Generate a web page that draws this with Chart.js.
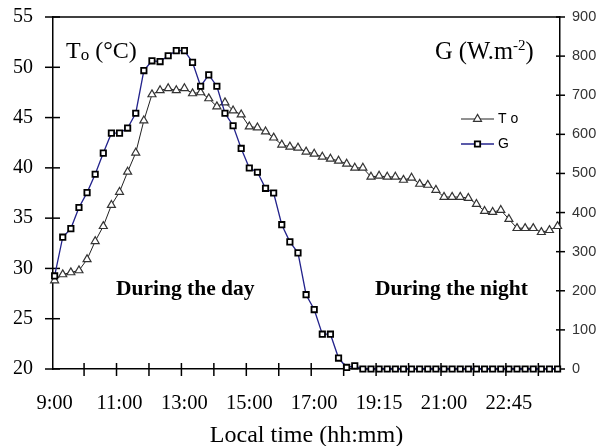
<!DOCTYPE html>
<html><head><meta charset="utf-8">
<script src="https://cdn.jsdelivr.net/npm/chart.js@4.4.1/dist/chart.umd.min.js"></script>
<style>html,body{margin:0;padding:0;background:#fff;}</style>
</head><body>
<canvas id="c" width="608" height="446"></canvas>
<script>
// x-axis tick labels, placed every 8 samples (15-min samples)
const tickLabels = ['9:00','11:00','13:00','15:00','17:00','19:15','21:00','22:45'];
// sample index (category position) of each measurement
const samples = Array.from({length: 63}, (_, i) => i);
// To (°C)
const tempo = [28.8,29.4,29.6,29.8,30.9,32.7,34.2,36.3,37.6,39.6,
  41.5,44.7,47.3,47.7,47.9,47.7,47.9,47.4,47.5,46.9,
  46.1,46.5,45.7,45.3,44.1,44.0,43.6,43.0,42.3,42.1,
  42.0,41.6,41.4,41.1,40.9,40.7,40.4,40.0,40.0,39.1,
  39.2,39.1,39.1,38.8,39.0,38.4,38.3,37.8,37.1,37.1,
  37.1,37.0,36.4,35.7,35.6,35.8,34.9,34.0,34.0,34.0,
  33.6,33.8,34.2];
// G (W.m-2)
const irradiance = [238,337,359,413,451,498,552,603,603,616,
  654,763,788,786,801,814,814,784,723,752,
  723,654,622,564,514,503,462,450,369,325,
  297,190,152,89,89,28,4,8,0,0,
  0,0,0,0,0,0,0,0,0,0,
  0,0,0,0,0,0,0,0,0,0,
  0,0,0];

const SERIF = "'Liberation Serif', 'Times New Roman', serif";
const SANS = "'Liberation Sans', Arial, sans-serif";

const decor = {
  id: 'decor',
  beforeDatasetsDraw(chart) {
    const {ctx, chartArea: a, scales: {x, yT, yG}} = chart;
    ctx.save();
    ctx.strokeStyle = '#000';
    ctx.lineWidth = 1.5;
    const seg = (x1, y1, x2, y2) => { ctx.beginPath(); ctx.moveTo(x1, y1); ctx.lineTo(x2, y2); ctx.stroke(); };
    seg(a.left, a.top, a.right, a.top);
    for (let v = 20; v <= 55; v += 5) { const y = yT.getPixelForValue(v); seg(a.left - 8, y, a.left + 7, y); }
    for (let v = 0; v <= 900; v += 100) { const y = yG.getPixelForValue(v); seg(a.right - 4, y, a.right + 5, y); }
    for (let i = 4; i <= 60; i += 4) { const px = x.getPixelForValue(i) - 3; seg(px, a.bottom - 6, px, a.bottom + 7); }
    ctx.restore();
  },
  afterDatasetsDraw(chart) {
    const {ctx} = chart;
    ctx.save();
    ctx.fillStyle = '#000';
    ctx.textBaseline = 'alphabetic';
    ctx.textAlign = 'left';
    // To (°C)
    let xx = 66;
    ctx.font = '24px ' + SERIF; ctx.fillText('T', xx, 58); xx += ctx.measureText('T').width;
    ctx.font = '17px ' + SERIF; ctx.fillText('o', xx, 60); xx += ctx.measureText('o').width;
    ctx.font = '24px ' + SERIF; ctx.fillText(' (°C)', xx, 58);
    // G (W.m-2)
    xx = 435;
    ctx.font = '24.5px ' + SERIF; ctx.fillText('G (W.m', xx, 59); xx += ctx.measureText('G (W.m').width;
    ctx.font = '15px ' + SERIF; ctx.fillText('-2', xx, 50); xx += ctx.measureText('-2').width;
    ctx.font = '24.5px ' + SERIF; ctx.fillText(')', xx, 59);
    // region notes
    ctx.font = 'bold 21.5px ' + SERIF;
    ctx.fillText('During the day', 116, 295);
    ctx.fillText('During the night', 375, 295);
    // legend
    const items = [{ds: chart.data.datasets[0], y: 119}, {ds: chart.data.datasets[1], y: 144}];
    items.forEach(({ds, y}) => {
      ctx.strokeStyle = ds.borderColor; ctx.lineWidth = ds.borderWidth;
      ctx.beginPath(); ctx.moveTo(461, y); ctx.lineTo(494, y); ctx.stroke();
      ctx.fillStyle = ds.pointBackgroundColor; ctx.strokeStyle = ds.pointBorderColor; ctx.lineWidth = ds.pointBorderWidth;
      Chart.helpers.drawPoint(ctx, {pointStyle: ds.pointStyle, radius: ds.pointRadius, rotation: 0, borderWidth: ds.pointBorderWidth}, 477.5, y);
      ctx.fillStyle = '#000'; ctx.font = '14px ' + SANS; ctx.textBaseline = 'middle';
      ctx.fillText(ds.label, 498, y);
    });
    ctx.restore();
  }
};

const noPad = s => { s.paddingTop = 0; s.paddingBottom = 0; s.paddingLeft = 0; s.paddingRight = 0; };

new Chart(document.getElementById('c'), {
  type: 'line',
  data: {
    datasets: [
      {
        label: 'T o',
        data: samples.map((s, i) => ({x: s, y: tempo[i]})),
        yAxisID: 'yT',
        borderColor: '#222', borderWidth: 1,
        pointStyle: 'triangle', pointRadius: 4.6,
        pointBackgroundColor: '#fff', pointBorderColor: '#333', pointBorderWidth: 1.2,
        tension: 0, clip: false, order: 1
      },
      {
        label: 'G',
        data: samples.map((s, i) => ({x: s, y: irradiance[i]})),
        yAxisID: 'yG',
        borderColor: '#23238c', borderWidth: 1.3,
        pointStyle: 'rect', pointRadius: 3.8,
        pointBackgroundColor: '#fff', pointBorderColor: '#000', pointBorderWidth: 1.8,
        tension: 0, clip: false, order: 0
      }
    ]
  },
  options: {
    responsive: false,
    animation: false,
    devicePixelRatio: 1,
    layout: {padding: {top: 17, left: 0, right: 0, bottom: 0}},
    plugins: {legend: {display: false}, tooltip: {enabled: false}},
    scales: {
      x: {
        type: 'linear', min: -0.2, max: 62.3,
        afterBuildTicks: s => { s.ticks = tickLabels.map((_, k) => ({value: k * 8})); },
        afterFit: s => { s.height = 77; noPad(s); },
        grid: {display: false, drawTicks: false},
        border: {display: true, color: '#000', width: 1.5},
        ticks: {
          autoSkip: false, maxRotation: 0, padding: 22, color: '#000',
          font: {family: SERIF, size: 20.5},
          callback: v => tickLabels[v / 8]
        },
        title: {display: true, text: 'Local time (hh:mm)', color: '#000',
          font: {family: SERIF, size: 24, lineHeight: 1}, padding: {top: 0, bottom: -2}}
      },
      yT: {
        position: 'left', min: 20, max: 55,
        afterFit: s => { s.width = 53; noPad(s); },
        grid: {display: false, drawTicks: false},
        border: {display: true, color: '#000', width: 1.5},
        ticks: {stepSize: 5, padding: 20, color: '#000', font: {family: SERIF, size: 20}}
      },
      yG: {
        position: 'right', min: 0, max: 900,
        afterFit: s => { s.width = 48; noPad(s); },
        grid: {display: false, drawTicks: false},
        border: {display: true, color: '#000', width: 1.5},
        ticks: {stepSize: 100, padding: 12, color: '#333', font: {family: SANS, size: 14.5}}
      }
    }
  },
  plugins: [decor]
});
</script>
</body></html>
